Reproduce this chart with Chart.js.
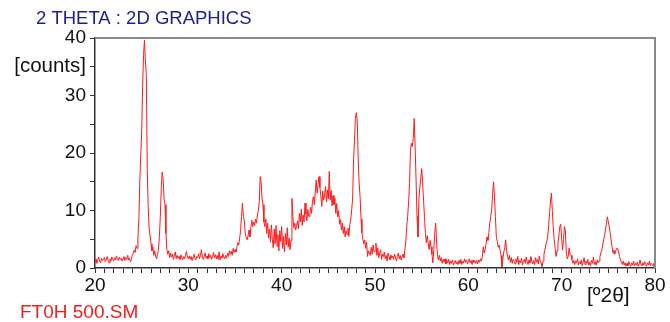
<!DOCTYPE html>
<html>
<head>
<meta charset="utf-8">
<script src="https://cdn.jsdelivr.net/npm/chart.js@4.4.1/dist/chart.umd.min.js"></script>
<style>
html,body{margin:0;padding:0;background:#fff;}
#wrap{position:relative;width:670px;height:322px;}
</style>
</head>
<body>
<div id="wrap"><canvas id="c" width="670" height="322"></canvas></div>
<script>
// ---- data (counts, step 0.1 °2θ) ----
const startAngle = 20;
const angleStep = 0.1;
const counts20to30 = [
 1.0,1.6,0.8,1.4,1.9,1.2,0.9,1.7,1.3,1.5,
 1.8,1.1,1.4,2.0,1.3,0.9,1.6,1.2,1.9,1.5,
 1.2,1.8,1.4,2.1,1.6,1.3,1.9,1.5,1.7,1.2,
 1.6,2.0,1.3,1.8,1.5,2.2,1.4,1.7,1.1,1.6,
 2.2,2.6,3.1,2.7,3.9,3.4,5.2,8.5,15.0,19.5,
 23.5,31.5,37.0,39.6,36.0,33.5,17.0,10.5,7.0,5.6,
 4.2,3.0,3.6,2.2,3.0,2.0,1.6,2.4,3.2,5.5,
 9.0,14.0,16.7,15.5,12.0,11.0,6.0,3.2,2.4,3.0,
 1.8,2.6,1.9,2.4,1.5,2.1,2.8,1.6,2.2,1.7,
 2.0,1.5,2.3,1.8,1.4,2.0,1.6,2.2,2.9,1.8
];
const counts30to40 = [
 1.6,2.1,1.5,2.0,1.3,1.9,2.4,1.7,1.4,2.0,
 1.8,2.5,1.6,2.2,3.2,1.9,1.5,2.0,2.6,1.7,
 2.1,1.6,2.5,1.8,2.2,1.5,2.0,2.7,1.8,2.3,
 1.6,2.2,1.5,2.8,1.4,2.0,1.7,2.5,1.9,1.6,
 2.2,1.7,2.6,2.0,3.0,2.4,2.9,2.2,3.4,2.7,
 3.2,2.8,3.6,4.4,4.0,5.2,6.5,9.0,11.3,9.0,
 8.2,6.0,5.3,4.9,5.6,6.6,5.4,7.0,8.3,7.2,
 8.0,7.4,8.5,7.8,9.2,10.0,11.5,15.9,15.0,12.0,
 11.0,8.0,7.2,8.5,6.0,7.8,5.2,6.8,4.5,7.5,
 5.0,3.5,6.8,4.2,7.4,3.8,5.8,3.0,6.5,4.6
];
const counts40to50 = [
 7.2,3.4,5.5,2.8,6.0,4.0,7.0,3.6,5.2,3.2,
 4.8,12.1,9.0,7.0,7.8,6.6,7.4,8.2,6.8,9.5,
 8.0,10.2,7.4,9.2,8.0,11.3,9.4,8.2,10.2,9.0,
 8.9,10.6,9.5,11.5,12.4,11.0,13.2,15.3,13.0,14.5,
 15.9,14.0,12.5,10.7,13.4,11.8,12.7,14.2,11.5,13.6,
 12.0,16.8,11.8,13.5,10.8,12.6,11.0,12.1,9.5,11.2,
 8.9,10.0,7.6,8.4,6.6,7.8,6.0,7.2,5.4,6.5,
 5.8,6.9,5.5,7.5,8.4,10.1,12.0,18.8,22.0,26.0,
 27.0,25.5,19.0,14.8,12.4,8.5,6.1,5.0,4.2,4.9,
 3.4,4.5,2.0,3.0,2.6,2.2,3.6,2.4,4.0,2.8
];
const counts50to60 = [
 3.0,4.3,2.2,3.5,1.8,2.6,3.2,1.5,2.4,2.0,
 2.8,1.6,2.2,1.2,2.6,1.9,1.4,2.3,1.7,2.1,
 1.5,2.4,1.8,1.2,2.0,2.6,1.6,2.2,1.4,1.9,
 2.4,1.8,3.1,4.5,7.2,9.0,11.5,14.7,20.5,21.7,
 21.1,22.5,26.0,21.1,15.3,9.0,5.4,11.8,14.0,15.5,
 17.3,15.0,11.8,9.0,6.0,4.4,5.6,4.3,3.2,4.8,
 3.7,2.4,0.9,3.2,6.0,7.8,4.5,2.0,1.4,2.2,
 1.2,1.8,0.8,1.5,1.0,1.6,0.7,1.3,0.9,1.5,
 0.6,1.2,0.8,1.4,0.5,1.0,1.3,0.7,1.1,0.6,
 1.3,0.8,1.5,0.6,1.2,0.9,1.6,1.0,1.4,0.7
];
const counts60to70 = [
 1.1,1.6,0.9,1.3,0.6,1.4,1.0,1.2,0.8,1.3,
 0.7,1.4,1.0,1.6,1.2,2.0,3.7,2.6,3.2,4.2,
 5.4,4.8,6.2,7.8,9.0,10.1,12.8,15.0,12.5,9.0,
 5.4,4.6,3.6,4.0,3.1,2.2,0.2,1.6,2.8,3.5,
 4.9,3.0,2.0,1.4,2.2,1.0,1.8,0.8,1.5,1.1,
 0.7,1.6,1.0,2.0,0.6,1.3,0.9,1.7,0.5,1.2,
 1.5,0.8,1.9,1.1,0.6,1.4,0.9,2.0,1.2,0.7,
 1.3,0.6,1.8,1.0,1.5,0.7,2.1,1.2,0.9,0.2,
 1.2,2.4,3.1,4.0,4.6,5.4,7.2,9.5,11.5,13.0,
 10.0,7.0,4.9,3.4,2.0,3.0,4.3,5.6,7.2,7.6
];
const counts70to80 = [
 5.0,3.1,5.0,7.2,6.5,2.6,1.6,2.0,3.5,2.4,
 2.2,1.5,0.8,1.3,0.6,1.2,0.9,1.6,0.5,1.1,
 0.7,1.4,0.4,1.0,1.8,0.6,1.2,0.8,1.5,0.5,
 1.0,0.4,1.3,0.8,1.9,0.6,1.1,0.5,1.4,0.9,
 1.2,2.0,2.6,3.1,4.0,4.9,5.8,6.6,7.8,8.9,
 8.0,7.2,6.0,4.9,3.6,2.6,3.1,2.4,3.0,3.4,
 3.4,2.8,2.0,1.4,1.0,0.6,1.2,0.5,0.9,0.3,
 0.8,0.4,1.1,0.6,0.3,0.9,0.5,1.2,0.4,0.8,
 0.5,1.0,0.3,0.7,1.4,0.6,0.4,0.9,0.5,1.1,
 0.6,0.3,0.9,0.5,1.2,0.4,0.8,0.6,0.3,0.9,
 1.0
];
const xTickLabels = [20,30,40,50,60,70,80];
const yTickLabels = [0,10,20,30,40];
const titleText = '2 THETA : 2D GRAPHICS';
const yAxisTitle = '[counts]';
const xAxisTitle = '[º2θ]';
const sampleName = 'FT0H 500.SM';

// ---- build points ----
const allCounts = [].concat(counts20to30, counts30to40, counts40to50, counts50to60, counts60to70, counts70to80);
const points = allCounts.map((c, i) => ({ x: +(startAngle + i * angleStep).toFixed(1), y: c }));

const FONT = '"Liberation Sans", Arial, sans-serif';

const decor = {
  id: 'decor',
  afterDraw(chart) {
    const { ctx, chartArea: a } = chart;
    ctx.save();
    // frame top/right
    ctx.strokeStyle = '#8a8a8a';
    ctx.lineWidth = 2;
    ctx.beginPath();
    ctx.moveTo(a.left, a.top);
    ctx.lineTo(a.right, a.top);
    ctx.lineTo(a.right, a.bottom);
    ctx.stroke();
    // title
    ctx.font = '18.5px ' + FONT;
    ctx.fillStyle = '#1d1d8f';
    ctx.textBaseline = 'middle';
    ctx.textAlign = 'left';
    ctx.fillText(titleText, 36, 19);
    // x axis title
    ctx.fillStyle = '#111';
    ctx.font = '21px ' + FONT;
    ctx.fillText(xAxisTitle, 587, 296);
    // sample name
    ctx.fillStyle = '#f02020';
    ctx.font = '19px ' + FONT;
    ctx.fillText(sampleName, 20, 313);
    ctx.restore();
  }
};

new Chart(document.getElementById('c'), {
  type: 'line',
  data: {
    datasets: [{
      data: points,
      borderColor: '#ff1a1a',
      borderWidth: 1,
      pointRadius: 0,
      tension: 0,
      fill: false
    }]
  },
  options: {
    responsive: false,
    animation: false,
    layout: { padding: { top: 38, right: 15, left: 0, bottom: 0 } },
    plugins: { legend: { display: false }, tooltip: { enabled: false } },
    scales: {
      x: {
        type: 'linear',
        min: xTickLabels[0],
        max: xTickLabels[xTickLabels.length - 1],
        afterFit(s) { s.height = 54; },
        afterBuildTicks(s) {
          const t = [];
          for (let v = xTickLabels[0]; v <= xTickLabels[xTickLabels.length - 1]; v++) t.push({ value: v });
          s.ticks = t;
        },
        ticks: {
          autoSkip: false, maxRotation: 0, padding: 1,
          color: '#111', font: { family: FONT, size: 19 },
          callback: v => xTickLabels.includes(v) ? String(v) : ''
        },
        grid: { drawOnChartArea: false, drawTicks: true, tickLength: 5, color: '#333' },
        border: { display: true, color: '#333', width: 1.5 }
      },
      y: {
        min: yTickLabels[0],
        max: yTickLabels[yTickLabels.length - 1],
        afterFit(s) { s.width = 95; },
        afterBuildTicks(s) {
          const t = [];
          for (let v = 0; v <= 40; v += 5) t.push({ value: v });
          s.ticks = t;
        },
        ticks: {
          autoSkip: false, padding: 4,
          color: '#111',
          font: c => ({ family: FONT, size: (c.tick && c.tick.value === 35) ? 20.5 : 19 }),
          callback: v => yTickLabels.includes(v) ? String(v) : (v === 35 ? yAxisTitle : '')
        },
        grid: { drawOnChartArea: false, drawTicks: true, tickLength: 5, color: '#333' },
        border: { display: true, color: '#333', width: 1.5 }
      }
    }
  },
  plugins: [decor]
});
</script>
</body>
</html>
